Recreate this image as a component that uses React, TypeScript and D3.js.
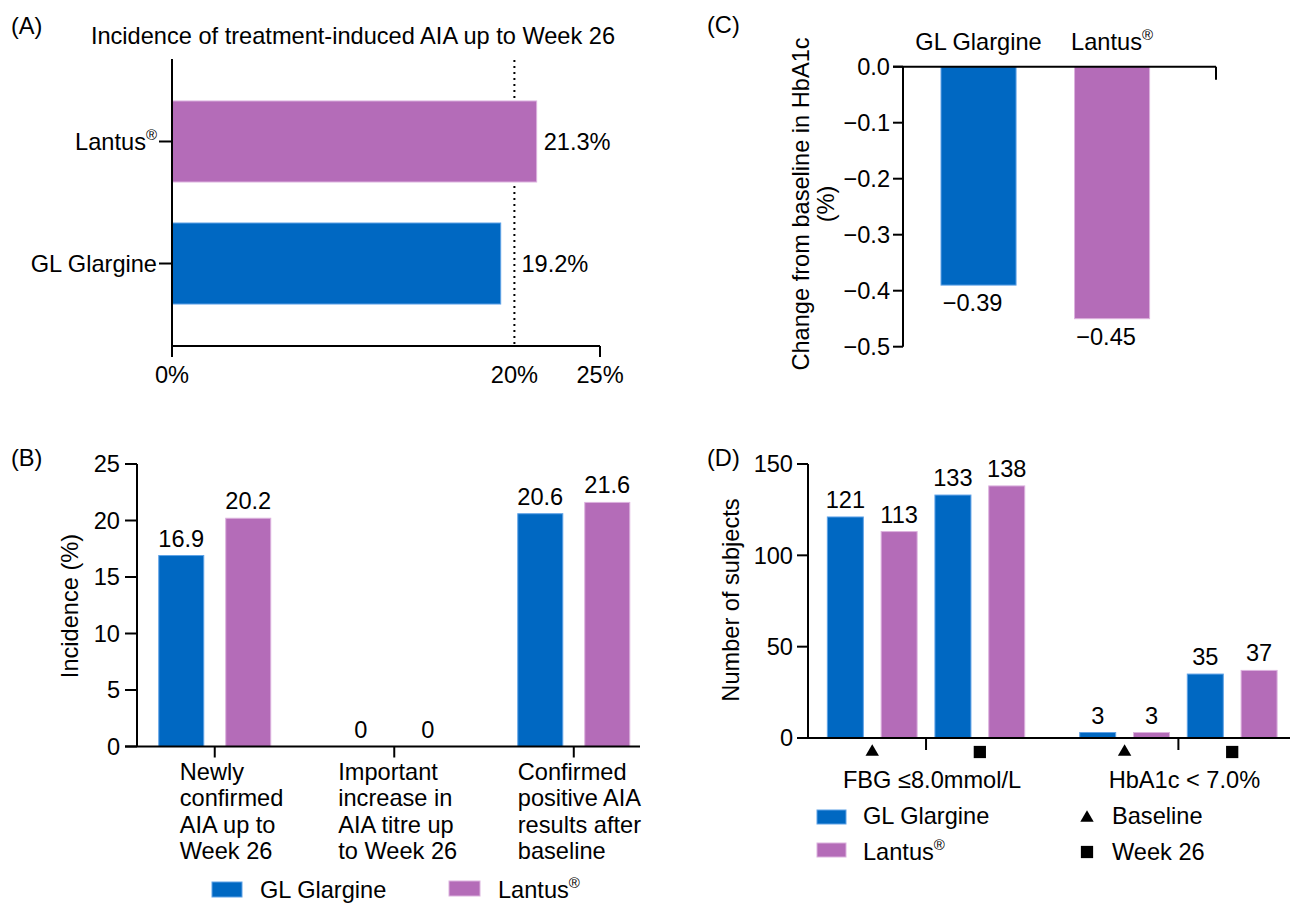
import React from 'react';
import * as d3 from 'd3';

// ---------- colours / fonts ----------
const BLUE = '#0068c2';
const PURPLE = '#b46cb8';
const BLUE_EDGE = '#5fa2e6';
const PURPLE_EDGE = '#dcb2de';
const FONT = '"Liberation Sans", Arial, Helvetica, sans-serif';
const FS = 23.6;

// ---------- Panel A data ----------
const aCategories = ['Lantus®', 'GL Glargine'];
const aValues = [21.3, 19.2];
const aTickValues = [0, 20, 25];
const aTickMarks = [0, 25];
const aReference = 20;
const aTitle = 'Incidence of treatment-induced AIA up to Week 26';

// ---------- Panel B data ----------
const bCategoryLines = [
  ['Newly', 'confirmed', 'AIA up to', 'Week 26'],
  ['Important', 'increase in', 'AIA titre up', 'to Week 26'],
  ['Confirmed', 'positive AIA', 'results after', 'baseline'],
];
const bGL = [16.9, 0, 20.6];
const bLantus = [20.2, 0, 21.6];
const bTicks = [0, 5, 10, 15, 20, 25];

// ---------- Panel C data ----------
const cCategories = ['GL Glargine', 'Lantus®'];
const cValues = [-0.39, -0.45];
const cTicks = [0, -0.1, -0.2, -0.3, -0.4, -0.5];

// ---------- Panel D data ----------
const dGroups = ['FBG ≤8.0mmol/L', 'HbA1c < 7.0%'];
const dGLBaseline = [121, 3];
const dLantusBaseline = [113, 3];
const dGLWeek26 = [133, 35];
const dLantusWeek26 = [138, 37];
const dTicks = [0, 50, 100, 150];

const seriesNames = ['GL Glargine', 'Lantus®'];
const seriesColors = [BLUE, PURPLE];
const seriesEdges = [BLUE_EDGE, PURPLE_EDGE];
const timepoints = ['Baseline', 'Week 26'];

// text with ® as superscript
function Reg({ text, ...rest }: any) {
  if (text.endsWith('®')) {
    return (
      <text {...rest}>
        {text.slice(0, -1)}
        <tspan fontSize={15} dy={-10}>®</tspan>
      </text>
    );
  }
  return <text {...rest}>{text}</text>;
}

function PanelA() {
  const x = d3.scaleLinear().domain([0, 25]).range([172, 600]);
  const y = d3.scaleBand<string>().domain(aCategories).range([59, 346]).paddingInner(0.336).paddingOuter(0.344);
  const [y0, y1] = y.range();
  return (
    <g>
      <text x={11} y={34} fontSize={FS}>(A)</text>
      <text x={353} y={44} fontSize={FS} textAnchor="middle">{aTitle}</text>
      <line x1={x(aReference)} x2={x(aReference)} y1={y0 + 1} y2={y1} stroke="#000" strokeWidth={2} strokeDasharray="2,4" />
      {aCategories.map((c, i) => (
        <rect key={c} x={x(0)} y={y(c)!} width={x(aValues[i]) - x(0)} height={y.bandwidth()}
          fill={seriesColors[1 - i]} stroke={seriesEdges[1 - i]} strokeWidth={1} />
      ))}
      {aCategories.map((c, i) => (
        <text key={c} x={Math.max(x(aValues[i]), x(aReference)) + 7} y={y(c)! + y.bandwidth() / 2} dy="0.35em" fontSize={FS}>
          {aValues[i].toFixed(1)}%
        </text>
      ))}
      <line x1={x(0)} x2={x(0)} y1={y0} y2={y1} stroke="#000" strokeWidth={2} />
      <line x1={x(0)} x2={x(25)} y1={y1} y2={y1} stroke="#000" strokeWidth={2} />
      {aTickMarks.map(t => (
        <line key={t} x1={x(t)} x2={x(t)} y1={y1} y2={y1 + 11} stroke="#000" strokeWidth={2} />
      ))}
      {aTickValues.map(t => (
        <text key={t} x={x(t)} y={383} fontSize={FS} textAnchor="middle">{t}%</text>
      ))}
      {aCategories.map(c => (
        <g key={c}>
          <line x1={x(0) - 13} x2={x(0)} y1={y(c)! + y.bandwidth() / 2} y2={y(c)! + y.bandwidth() / 2} stroke="#000" strokeWidth={2} />
          <Reg text={c} x={x(0) - 15} y={y(c)! + y.bandwidth() / 2} dy="0.35em" fontSize={FS} textAnchor="end" />
        </g>
      ))}
    </g>
  );
}

function PanelB() {
  const y = d3.scaleLinear().domain([0, 25]).range([746.5, 464]);
  const idx = bCategoryLines.map((_, i) => String(i));
  const x0 = d3.scalePoint<string>().domain(idx).range([137, 640]).padding(0.401).align(0.54);
  const x1 = d3.scaleBand<string>().domain(seriesNames).range([-56, 56]).paddingInner(0.328);
  const labelOffsets = [35, 56, 56];
  const values = [bGL, bLantus];
  return (
    <g>
      <text x={11} y={466} fontSize={FS}>(B)</text>
      {idx.map((k, i) => seriesNames.map((s, j) => {
        const v = values[j][i];
        const bx = x0(k)! + x1(s)!;
        return (
          <g key={k + s}>
            {v > 0 && <rect x={bx} y={y(v)} width={x1.bandwidth()} height={y(0) - y(v)} fill={seriesColors[j]} stroke={seriesEdges[j]} strokeWidth={1} />}
            <text x={bx + x1.bandwidth() / 2} y={y(v) - 9} fontSize={FS} textAnchor="middle">{String(v)}</text>
          </g>
        );
      }))}
      <line x1={137} x2={137} y1={y(25)} y2={y(0)} stroke="#000" strokeWidth={2} />
      <line x1={125} x2={640} y1={y(0)} y2={y(0)} stroke="#000" strokeWidth={2} />
      {bTicks.map(t => (
        <g key={t}>
          <line x1={125} x2={137} y1={y(t)} y2={y(t)} stroke="#000" strokeWidth={2} />
          <text x={120} y={y(t)} dy="0.35em" fontSize={FS} textAnchor="end">{t}</text>
        </g>
      ))}
      {idx.map((k, i) => (
        <g key={k}>
          <line x1={x0(k)!} x2={x0(k)!} y1={y(0)} y2={y(0) + 11} stroke="#000" strokeWidth={2} />
          {bCategoryLines[i].map((ln, li) => (
            <text key={li} x={x0(k)! - labelOffsets[i]} y={780 + li * 26.3} fontSize={FS}>{ln}</text>
          ))}
        </g>
      ))}
      <text transform={`translate(78,${606}) rotate(-90)`} fontSize={FS} textAnchor="middle">Incidence (%)</text>
      {/* legend */}
      <rect x={212} y={882} width={30} height={15} fill={BLUE} stroke={BLUE_EDGE} strokeWidth={1} />
      <text x={260} y={898} fontSize={FS}>GL Glargine</text>
      <rect x={449} y={881} width={31} height={15} fill={PURPLE} stroke={PURPLE_EDGE} strokeWidth={1} />
      <Reg text="Lantus®" x={498} y={898} fontSize={FS} />
    </g>
  );
}

function PanelC() {
  const y = d3.scaleLinear().domain([-0.5, 0]).range([346.7, 66.7]);
  const x = d3.scaleBand<string>().domain(cCategories).range([903, 1216]).paddingInner(0.438).paddingOuter(0.391).align(0.364);
  const fmt = d3.format('.1f');
  const fmt2 = d3.format('.2f');
  return (
    <g>
      <text x={707} y={33} fontSize={FS}>(C)</text>
      {cCategories.map((c, i) => (
        <g key={c}>
          <rect x={x(c)!} y={y(0)} width={x.bandwidth()} height={y(cValues[i]) - y(0)} fill={seriesColors[i]} stroke={seriesEdges[i]} strokeWidth={1} />
          <text x={x(c)! + x.bandwidth() / 2 - 6} y={y(cValues[i]) + 26} fontSize={FS} textAnchor="middle">{fmt2(cValues[i])}</text>
          <Reg text={c} x={x(c)! + x.bandwidth() / 2} y={50} fontSize={FS} textAnchor="middle" />
        </g>
      ))}
      <line x1={903} x2={903} y1={y(0)} y2={y(-0.5)} stroke="#000" strokeWidth={2} />
      <line x1={893} x2={1216} y1={y(0)} y2={y(0)} stroke="#000" strokeWidth={2} />
      <line x1={1216} x2={1216} y1={y(0)} y2={y(0) + 13} stroke="#000" strokeWidth={2} />
      {cTicks.map(t => (
        <g key={t}>
          <line x1={893} x2={903} y1={y(t)} y2={y(t)} stroke="#000" strokeWidth={2} />
          <text x={890} y={y(t)} dy="0.35em" fontSize={FS} textAnchor="end">{fmt(t)}</text>
        </g>
      ))}
      <text transform={`translate(809,${204}) rotate(-90)`} fontSize={FS} textAnchor="middle">Change from baseline in HbA1c</text>
      <text transform={`translate(834,${204}) rotate(-90)`} fontSize={FS} textAnchor="middle">(%)</text>
    </g>
  );
}

function PanelD() {
  const y = d3.scaleLinear().domain([0, 150]).range([738, 464]);
  const x0 = d3.scalePoint<string>().domain(dGroups).range([808, 1290]).padding(0.455).align(0.514);
  const barKeys = ['glb', 'lb', 'glw', 'lw'];
  const x1 = d3.scaleBand<string>().domain(barKeys).range([-98.7, 98.7]).paddingInner(0.331);
  const barData = [dGLBaseline, dLantusBaseline, dGLWeek26, dLantusWeek26];
  const tri = d3.symbol(d3.symbolTriangle, 78)()!;
  const sq = d3.symbol(d3.symbolSquare, 150)()!;
  const markers = [tri, sq];
  return (
    <g>
      <text x={707} y={466} fontSize={FS}>(D)</text>
      {dGroups.map((g, gi) => (
        <g key={g}>
          {barKeys.map((k, bi) => {
            const v = barData[bi][gi];
            const bx = x0(g)! + x1(k)!;
            return (
              <g key={k}>
                <rect x={bx} y={y(v)} width={x1.bandwidth()} height={y(0) - y(v)} fill={seriesColors[bi % 2]} stroke={seriesEdges[bi % 2]} strokeWidth={1} />
                <text x={bx + x1.bandwidth() / 2} y={y(v) - 9} fontSize={FS} textAnchor="middle">{v}</text>
              </g>
            );
          })}
          <line x1={x0(g)!} x2={x0(g)!} y1={y(0)} y2={y(0) + 12} stroke="#000" strokeWidth={2} />
          {timepoints.map((t, ti) => {
            const cx = x0(g)! + (x1(barKeys[ti * 2])! + x1(barKeys[ti * 2 + 1])! + x1.bandwidth()) / 2;
            return <path key={t} d={markers[ti]} transform={`translate(${cx},${752})`} fill="#000" />;
          })}
          <text x={x0(g)! + 6} y={788} fontSize={FS} textAnchor="middle">{g}</text>
        </g>
      ))}
      <line x1={808} x2={808} y1={y(150)} y2={y(0)} stroke="#000" strokeWidth={2} />
      <line x1={797} x2={1290} y1={y(0)} y2={y(0)} stroke="#000" strokeWidth={2} />
      {dTicks.map(t => (
        <g key={t}>
          <line x1={797} x2={808} y1={y(t)} y2={y(t)} stroke="#000" strokeWidth={2} />
          <text x={793} y={y(t)} dy="0.35em" fontSize={FS} textAnchor="end">{t}</text>
        </g>
      ))}
      <text transform={`translate(739,${600}) rotate(-90)`} fontSize={FS} textAnchor="middle">Number of subjects</text>
      {/* legend */}
      {seriesNames.map((s, i) => (
        <g key={s}>
          <rect x={817} y={810 + i * 33} width={29} height={14} fill={seriesColors[i]} stroke={seriesEdges[i]} strokeWidth={1} />
          <Reg text={s} x={863} y={824 + i * 36} fontSize={FS} />
        </g>
      ))}
      {timepoints.map((t, i) => (
        <g key={t}>
          <path d={markers[i]} transform={`translate(1087,${818 + i * 34})`} fill="#000" />
          <text x={1112} y={824 + i * 36} fontSize={FS}>{t}</text>
        </g>
      ))}
    </g>
  );
}

export default function App() {
  return (
    <svg width={1290} height={904} style={{ position: 'absolute', left: 0, top: 0, background: '#fff' }}
      fontFamily={FONT} fill="#000">
      <rect x={0} y={0} width={1290} height={904} fill="#fff" />
      <PanelA />
      <PanelB />
      <PanelC />
      <PanelD />
    </svg>
  );
}
